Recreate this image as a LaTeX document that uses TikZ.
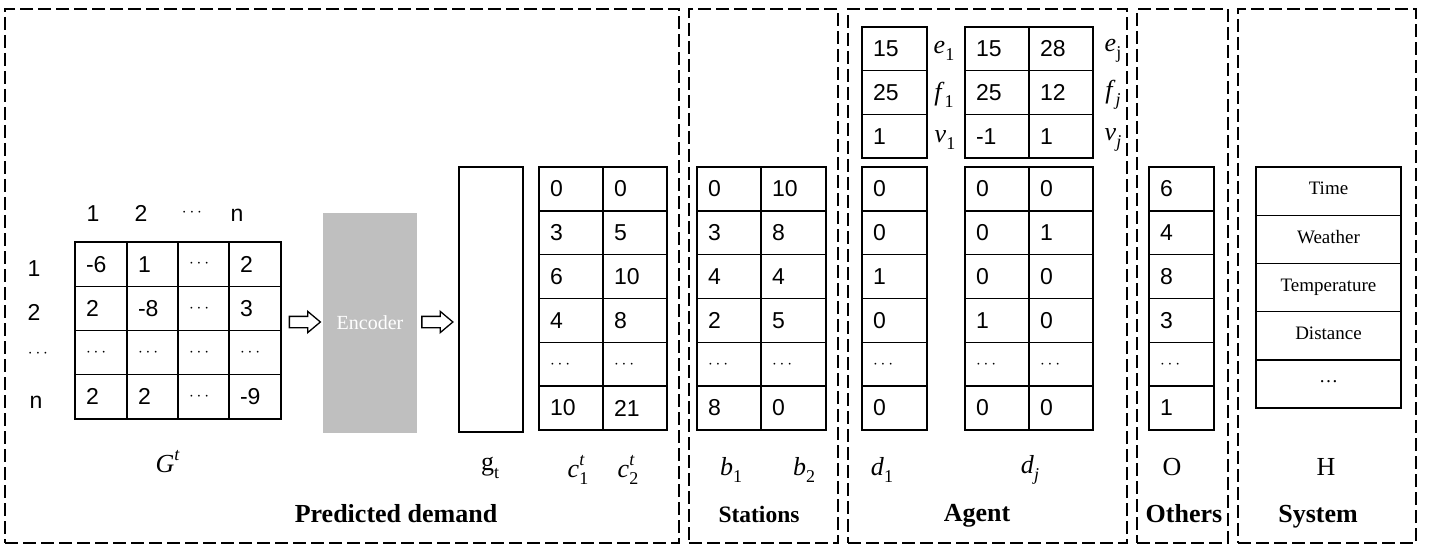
\documentclass[tikz,border=0pt]{standalone}
\usepackage{fontspec}
\setmainfont{Liberation Serif}
\setsansfont{Liberation Sans}
\usetikzlibrary{shapes.arrows}
\definecolor{encgray}{HTML}{BFBFBF}
\newcommand{\cellfont}{\sffamily\fontsize{23}{26}\selectfont}
\newcommand{\dd}{{\fontsize{17}{17}\selectfont$\cdots$}}
\newcommand{\subsz}{\fontsize{18}{18}\selectfont}
% letter, subscript, superscript
\newcommand{\ml}[3]{#1\makebox[0pt][l]{\raisebox{0.45em}{\subsz #3}}\raisebox{-0.28em}{\subsz #2}}
\newcommand{\mycell}[6]{%
  \pgfmathsetmacro{\myw}{#4-#2-22}%
  \pgfmathsetmacro{\myh}{#5-#3}%
  \node[cell, text width=\myw pt, minimum height=\myh pt] (#1) at ({(#2+#4)/2},{(#3+#5)/2}) {#6};}
\newcommand{\mycol}[6]{%
  \foreach \v [count=\i] in {#6} {%
    \pgfmathsetmacro{\ya}{#4+(\i-1)*#5}%
    \pgfmathsetmacro{\yb}{#4+\i*#5}%
    \mycell{#1-\i}{#2}{\ya}{#3}{\yb}{\v}%
  }}
\begin{document}
\begin{tikzpicture}[x=1pt,y=-1pt,
  group/.style={draw, line width=1.8pt, dash pattern=on 13pt off 5pt, inner sep=0pt},
  cell/.style={draw, line width=1.4pt, inner xsep=11pt, inner ysep=0pt, align=left, font=\cellfont},
  syscell/.style={draw, line width=1.4pt, minimum width=145pt, minimum height=48.2pt, inner sep=0pt, font=\fontsize{19}{22}\selectfont},
  hdr/.style={font=\cellfont, anchor=base, inner sep=0pt},
  lab/.style={font=\fontsize{26}{30}\selectfont},
  title/.style={font=\bfseries\fontsize{26}{30}\selectfont, anchor=base},
  harrow/.style={single arrow, draw, line width=1.3pt, fill=white, minimum height=31pt, single arrow head extend=5pt, single arrow tip angle=80, inner xsep=0pt, inner ysep=5pt}]
\useasboundingbox (0,0) rectangle (1430,559);
\fill[white] (0,0) rectangle (1430,559);
% group boxes
\node[group, minimum width=674pt, minimum height=534pt] (gpd) at (342,276) {};
\node[group, minimum width=149pt, minimum height=534pt] (gst) at (763.5,276) {};
\node[group, minimum width=279pt, minimum height=534pt] (gag) at (987.5,276) {};
\node[group, minimum width=91pt, minimum height=534pt] (got) at (1182.5,276) {};
\node[group, minimum width=178pt, minimum height=534pt] (gsy) at (1327,276) {};
% G matrix
\mycol{ga}{75}{127}{242}{44.25}{-6,2,\dd,2}
\mycol{gb}{127}{178}{242}{44.25}{1,-8,\dd,2}
\mycol{gc}{178}{229}{242}{44.25}{\dd,\dd,\dd,\dd}
\mycol{gd}{229}{281}{242}{44.25}{2,3,\dd,-9}
\node[hdr] (h1) at (93,221.5) {1};
\node[hdr] (h2) at (141,221.5) {2};
\node[hdr] (h3) at (192,216) {\dd};
\node[hdr] (h4) at (237,221.5) {n};
\node[hdr] (r1) at (34,276) {1};
\node[hdr] (r2) at (34,320) {2};
\node[hdr] (r3) at (38,357) {\dd};
\node[hdr] (r4) at (36,408) {n};
\node[lab] (Gt) at (165,465) {\ml{\textit{G}}{}{\textit{t}}};
% encoder
\node[harrow] (ar1) at (301.5,322) {};
\node[fill=encgray, minimum width=94pt, minimum height=220pt, inner sep=0pt, text=white, font=\fontsize{20}{22}\selectfont] (enc) at (370,323) {Encoder};
\node[harrow] (ar2) at (434,322) {};
\node[draw, line width=1.4pt, minimum width=64pt, minimum height=265pt, inner sep=0pt] (gt) at (491,299.5) {};
\node[lab] (gtl) at (490,468) {\ml{g}{t}{}};
% c matrix
\mycol{ca}{539}{603}{167}{43.83}{0,3,6,4,\dd,10}
\mycol{cb}{603}{667}{167}{43.83}{0,5,10,8,\dd,21}
\node[lab] (c1l) at (578,470) {\ml{\textit{c}}{1}{\textit{t}}};
\node[lab] (c2l) at (628,470) {\ml{\textit{c}}{2}{\textit{t}}};
\node[title] (tpd) at (396,522) {Predicted demand};
% stations
\mycol{sa}{697}{761}{167}{43.83}{0,3,4,2,\dd,8}
\mycol{sb}{761}{826}{167}{43.83}{10,8,4,5,\dd,0}
\node[lab] (b1l) at (731,470) {\ml{\textit{b}}{1}{}};
\node[lab] (b2l) at (804,470) {\ml{\textit{b}}{2}{}};
\node[title, font=\bfseries\fontsize{23.5}{28}\selectfont] (tst) at (759,522) {Stations};
% agent
\mycol{ea}{862}{927}{27}{43.7}{15,25,1}
\mycol{eb}{965}{1029}{27}{43.7}{15,25,-1}
\mycol{ec}{1029}{1093}{27}{43.7}{28,12,1}
\node[lab] (e1l) at (944,51) {\ml{\textit{e}}{1}{}};
\node[lab] (f1l) at (944,95) {\ml{\textit{f}}{1}{}};
\node[lab] (v1l) at (945,140) {\ml{\textit{v}}{1}{}};
\node[lab] (ejl) at (1113,51) {\ml{\textit{e}}{j}{}};
\node[lab] (fjl) at (1113,95) {\ml{\textit{f}}{\textit{j}}{}};
\node[lab] (vjl) at (1113,140) {\ml{\textit{v}}{\textit{j}}{}};
\mycol{da}{862}{927}{167}{43.83}{0,0,1,0,\dd,0}
\mycol{db}{965}{1029}{167}{43.83}{0,0,0,1,\dd,0}
\mycol{dc}{1029}{1093}{167}{43.83}{0,1,0,0,\dd,0}
\node[lab] (d1l) at (882,470) {\ml{\textit{d}}{1}{}};
\node[lab] (djl) at (1030,470) {\ml{\textit{d}}{\textit{j}}{}};
\node[title] (tag) at (977,521) {Agent};
% others
\mycol{oa}{1149}{1214}{167}{43.83}{6,4,8,3,\dd,1}
\node[lab] (Ol) at (1172,467) {O};
\node[title] (tot) at (1184,522) {Others};
% system
\foreach \t [count=\i] in {Time,Weather,Temperature,Distance,\ldots} {
  \pgfmathsetmacro{\yc}{167+(\i-0.5)*48.2}
  \node[syscell] (sy-\i) at (1328.5,\yc) {\raisebox{5pt}{\t}};
}
\node[lab] (Hl) at (1326,467) {H};
\node[title] (tsy) at (1318,522) {System};
\end{tikzpicture}
\end{document}
